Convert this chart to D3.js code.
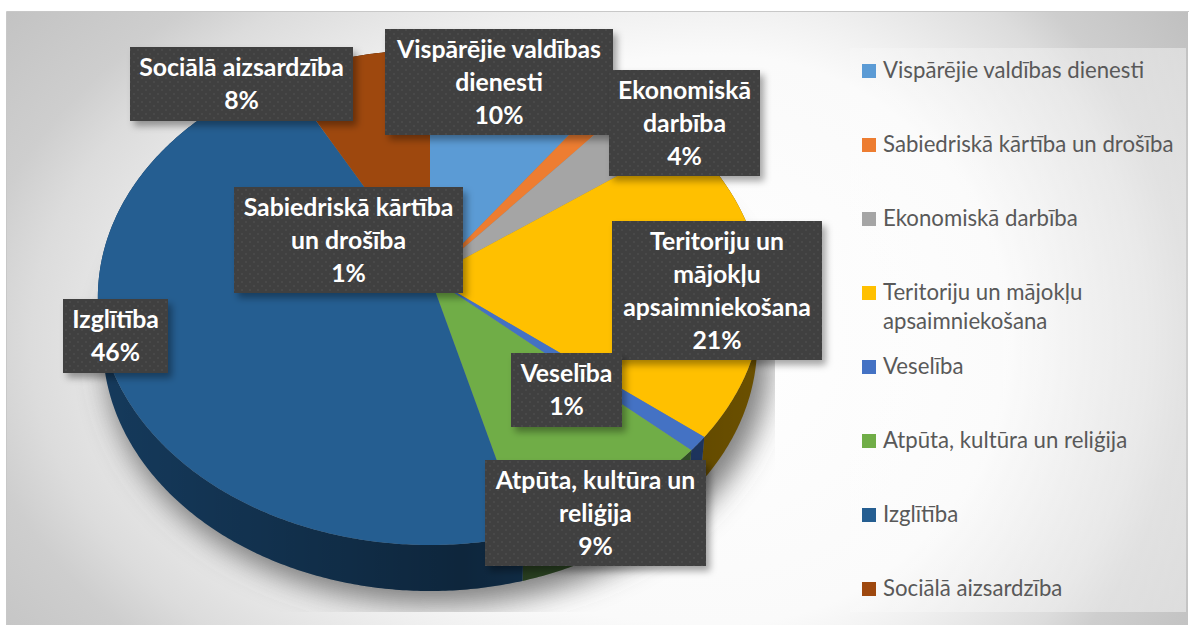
<!DOCTYPE html>
<html>
<head>
<meta charset="utf-8">
<script src="https://cdn.jsdelivr.net/npm/d3@7/dist/d3.min.js"></script>
<style>
html, body { margin: 0; padding: 0; background: #fff; }
svg { display: block; }
text { font-family: Lato, "Open Sans", sans-serif; }
</style>
</head>
<body>
<div id="chart"></div>
<script>
// Chart data
const categories = ["Vispārējie valdības dienesti", "Sabiedriskā kārtība un drošība", "Ekonomiskā darbība", "Teritoriju un mājokļu apsaimniekošana", "Veselība", "Atpūta, kultūra un reliģija", "Izglītība", "Sociālā aizsardzība"];
const shares = [10, 1.3, 3.7, 20.6, 1.0, 9.2, 46.3, 7.9];
const percentLabels = ["10%", "1%", "4%", "21%", "1%", "9%", "46%", "8%"];
const sliceColors = ["#5b9bd5", "#ed7d31", "#a5a5a5", "#ffc000", "#4472c4", "#70ad47", "#255e91", "#9e480e"];
const sideColors = ["#2f5f8c", "#7a3f16", "#555555", "#6b5000", "#1f3864", "#35532a", "#153a5c", "#5a2a08"];

// Label lines and box layout (left, top, right, bottom)
const labelLines = [["Vispārējie valdības", "dienesti"], ["Sabiedriskā kārtība", "un drošība"], ["Ekonomiskā", "darbība"], ["Teritoriju un", "mājokļu", "apsaimniekošana"], ["Veselība"], ["Atpūta, kultūra un", "reliģija"], ["Izglītība"], ["Sociālā aizsardzība"]];
const labelBoxes = [[385, 29, 613, 135], [234, 187, 463, 293], [609, 70, 760, 176], [612, 221, 822, 360], [511, 353, 622, 427], [485, 460, 706, 566], [63, 299, 168, 373], [130, 47, 353, 121]];
const legendLines = [["Vispārējie valdības dienesti"], ["Sabiedriskā kārtība un drošība"], ["Ekonomiskā darbība"], ["Teritoriju un mājokļu", "apsaimniekošana"], ["Veselība"], ["Atpūta, kultūra un reliģija"], ["Izglītība"], ["Sociālā aizsardzība"]];

const width = 1190, height = 643;

const svg = d3.select("#chart").append("svg")
    .attr("width", width)
    .attr("height", height);

const defs = svg.append("defs");

// Chart area background: light middle, falls off faster to the right than to the left
const bgStops = [[0, "#ffffff"], [0.5, "#fafafa"], [0.59, "#f0f0f0"], [0.75, "#dcdcdc"], [0.82, "#cecece"], [1, "#c0c0c0"]];
[["bgRight", 1], ["bgLeft", 1.613]].forEach(([id, sx]) => {
    const g = defs.append("radialGradient").attr("id", id)
        .attr("gradientUnits", "userSpaceOnUse")
        .attr("cx", 0).attr("cy", 0).attr("r", 570)
        .attr("gradientTransform", "translate(720,340) scale(" + sx + ",1)");
    bgStops.forEach(s => g.append("stop").attr("offset", s[0]).attr("stop-color", s[1]));
});

const panel = defs.append("linearGradient").attr("id", "panelGrad")
    .attr("x1", "0%").attr("x2", "100%").attr("y1", "0%").attr("y2", "0%");
panel.append("stop").attr("offset", "0%").attr("stop-color", "#fff").attr("stop-opacity", 0.2);
panel.append("stop").attr("offset", "100%").attr("stop-color", "#fff").attr("stop-opacity", 0.42);

// Dots on the label boxes
const dots = defs.append("pattern").attr("id", "dots")
    .attr("patternUnits", "userSpaceOnUse").attr("width", 8).attr("height", 8);
dots.append("rect").attr("width", 8).attr("height", 8).attr("fill", "#404040");
dots.append("rect").attr("x", 1).attr("y", 1).attr("width", 2).attr("height", 2).attr("fill", "#494949");
dots.append("rect").attr("x", 5).attr("y", 5).attr("width", 2).attr("height", 2).attr("fill", "#494949");

defs.append("filter").attr("id", "pieShadow")
    .attr("x", "-20%").attr("y", "-20%").attr("width", "140%").attr("height", "140%")
    .append("feGaussianBlur").attr("stdDeviation", 14);

const boxShadow = defs.append("filter").attr("id", "boxShadow")
    .attr("x", "-20%").attr("y", "-20%").attr("width", "140%").attr("height", "140%");
boxShadow.append("feGaussianBlur").attr("stdDeviation", 3.5);

const sideShade = defs.append("linearGradient").attr("id", "sideShade")
    .attr("gradientUnits", "userSpaceOnUse")
    .attr("x1", 97).attr("x2", 760).attr("y1", 0).attr("y2", 0);
sideShade.append("stop").attr("offset", "0%").attr("stop-color", "#000").attr("stop-opacity", 0);
sideShade.append("stop").attr("offset", "55%").attr("stop-color", "#000").attr("stop-opacity", 0.35);
sideShade.append("stop").attr("offset", "100%").attr("stop-color", "#000").attr("stop-opacity", 0);

svg.append("rect").attr("x", 7).attr("y", 11).attr("width", 713).attr("height", 614)
    .attr("fill", "url(#bgLeft)");
svg.append("rect").attr("x", 720).attr("y", 11).attr("width", 468).attr("height", 614)
    .attr("fill", "url(#bgRight)");
svg.append("path").attr("d", "M6.5,625V11.5H1189").attr("fill", "none").attr("stroke", "#c8c8c8");

svg.append("rect").attr("x", 850).attr("y", 48).attr("width", 336).attr("height", 564)
    .attr("fill", "url(#panelGrad)");

// Tilted pie: unit circle through a perspective projection
const apexX = 430, apexY = 277, persp = 0.0828, depth = 46, wallShrink = 0.985;
const xScale = d3.scaleLinear().domain([-1, 1]).range([apexX - 331, apexX + 331]);
const yScale = d3.scaleLinear().domain([-1, 1]).range([apexY + 245.8, apexY - 245.8]);

function project(angle) {
    const u = Math.sin(angle), v = Math.cos(angle);
    const w = 1 + persp * v;
    return [xScale(u / w), yScale(v / w)];
}

function arcPoints(d) {
    const n = Math.max(2, Math.ceil((d.endAngle - d.startAngle) / 0.01));
    return d3.range(n + 1).map(i => project(d.startAngle + (d.endAngle - d.startAngle) * i / n));
}

function lowerRim(p) {
    return [apexX + (p[0] - apexX) * wallShrink, p[1] + depth];
}

const pieData = d3.pie().sort(null)(shares);
const line = d3.line();
const apex = [xScale(0), yScale(0)];

const plot = svg.append("g");

// Soft shadow under the pie, cut off at the plot area
defs.append("clipPath").attr("id", "plotClip").append("rect")
    .attr("x", 60).attr("y", 20).attr("width", 715).attr("height", 592);
const allRim = d3.range(0, 361, 2).map(a => {
    const p = project(a * Math.PI / 180);
    return [p[0] + 8, p[1] + depth + 14];
});
plot.append("g").attr("clip-path", "url(#plotClip)")
    .append("path")
    .attr("d", line(allRim) + "Z")
    .attr("fill", "#555")
    .attr("fill-opacity", 0.75)
    .attr("filter", "url(#pieShadow)");

// Side wall
const sides = plot.append("g");
pieData.forEach((d, i) => {
    const pts = arcPoints(d);
    const wall = pts.concat(pts.slice().reverse().map(lowerRim));
    sides.append("path").attr("d", line(wall) + "Z").attr("fill", sideColors[i]);
    sides.append("path").attr("d", line(wall) + "Z").attr("fill", "url(#sideShade)");
});

// Top face
plot.append("g").selectAll("path")
    .data(pieData)
    .enter().append("path")
    .attr("d", d => line([apex].concat(arcPoints(d))) + "Z")
    .attr("fill", (d, i) => sliceColors[i]);

// Data labels
const labels = svg.append("g");
const drawOrder = [6, 7, 0, 2, 1, 3, 4, 5];
drawOrder.forEach(i => {
    const b = labelBoxes[i];
    const g = labels.append("g");
    g.append("rect").attr("x", b[0] + 4).attr("y", b[1] + 5)
        .attr("width", b[2] - b[0]).attr("height", b[3] - b[1])
        .attr("fill", "#000").attr("fill-opacity", 0.35).attr("filter", "url(#boxShadow)");
    g.append("rect").attr("x", b[0]).attr("y", b[1])
        .attr("width", b[2] - b[0]).attr("height", b[3] - b[1])
        .attr("fill", "url(#dots)");
    const rows = labelLines[i].concat(percentLabels[i]);
    const lineH = 33;
    const top = (b[1] + b[3]) / 2 - rows.length * lineH / 2;
    g.selectAll("text").data(rows).enter().append("text")
        .attr("x", (b[0] + b[2]) / 2)
        .attr("y", (d, j) => top + j * lineH + 25)
        .attr("text-anchor", "middle")
        .attr("fill", "#fff")
        .attr("font-size", 24.8)
        .attr("font-weight", 700)
        .text(d => d);
});

// Legend
const legendY = d3.scalePoint().domain(d3.range(categories.length)).range([71, 589]);
const legend = svg.append("g");
categories.forEach((c, i) => {
    const y = legendY(i);
    legend.append("rect").attr("x", 862).attr("y", y - 7).attr("width", 14).attr("height", 14)
        .attr("fill", sliceColors[i]);
    legend.selectAll(null).data(legendLines[i]).enter().append("text")
        .attr("x", 883)
        .attr("y", (d, j) => y + 7 + j * 29)
        .attr("fill", "#595959")
        .attr("font-size", 22.2)
        .text(d => d);
});
</script>
</body>
</html>
